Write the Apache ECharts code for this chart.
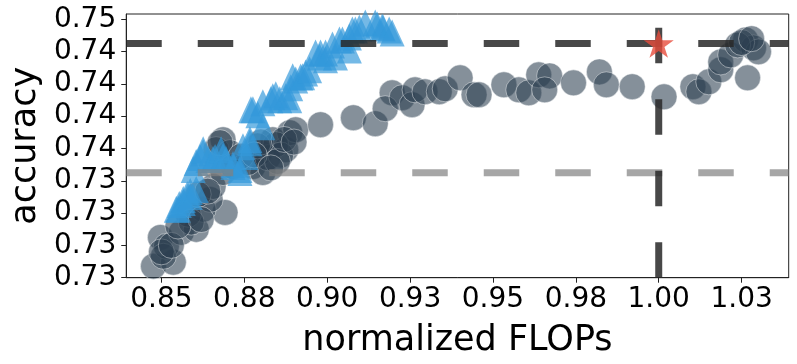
<!DOCTYPE html>
<html>
<head>
<meta charset="utf-8">
<script src="https://cdn.jsdelivr.net/npm/echarts@6/dist/echarts.min.js"></script>
<style>
  html, body { margin: 0; padding: 0; background: #fff; }
  #chart { width: 797px; height: 364px; }
</style>
</head>
<body>
<div id="chart"></div>
<script>
// circle points: [normalized FLOPs, accuracy]
const circlePts = [
  [0.8476, 0.72839], [0.8497, 0.73062], [0.8536, 0.72870], [0.8515, 0.72993],
  [0.8506, 0.72916], [0.8560, 0.73101], [0.8605, 0.73124], [0.8692, 0.73255],
  [0.8626, 0.73279], [0.8647, 0.73356], [0.8656, 0.73456], [0.8686, 0.73818],
  [0.8665, 0.73741], [0.8707, 0.73718], [0.8686, 0.73564], [0.8716, 0.73610],
  [0.8776, 0.73610], [0.8806, 0.73564], [0.8797, 0.73718], [0.8836, 0.73818],
  [0.8875, 0.73741], [0.8887, 0.73872], [0.8905, 0.73895], [0.8581, 0.73241],
  [0.8611, 0.73395], [0.8677, 0.73795], [0.8761, 0.73641], [0.8821, 0.73679],
  [0.8845, 0.73780], [0.8860, 0.73700], [0.8790, 0.73770], [0.8740, 0.73690],
  [0.8640, 0.73420], [0.8590, 0.73180],
  [0.8800, 0.73800], [0.8850, 0.73650], [0.8870, 0.73820], [0.8780, 0.73700],
  [0.8900, 0.73800], [0.8830, 0.73600], [0.8500, 0.72950], [0.8530, 0.73000],
  [0.8550, 0.73150], [0.8620, 0.73200],
  [0.8980, 0.73934], [0.9079, 0.73988], [0.9145, 0.73942], [0.9196, 0.74181],
  [0.9175, 0.74058], [0.9226, 0.74143], [0.9256, 0.74089], [0.9265, 0.74204],
  [0.9295, 0.74189], [0.9338, 0.74189], [0.9356, 0.74212], [0.9401, 0.74297],
  [0.9443, 0.74166], [0.9458, 0.74166], [0.9533, 0.74243], [0.9578, 0.74204],
  [0.9608, 0.74181], [0.9638, 0.74320], [0.9671, 0.74312], [0.9656, 0.74204],
  [0.9743, 0.74258], [0.9821, 0.74343], [0.9842, 0.74243], [0.9920, 0.74228],
  [1.0016, 0.74150], [1.0103, 0.74228], [1.0121, 0.74189], [1.0151, 0.74266],
  [1.0187, 0.74359], [1.0187, 0.74420], [1.0217, 0.74474], [1.0262, 0.74590],
  [1.0286, 0.74529], [1.0301, 0.74498], [1.0268, 0.74297], [1.0238, 0.74552],
  [1.0250, 0.74570], [1.0280, 0.74600]
];

// triangle points
const trianglePts = [
  [0.8545, 0.73279], [0.8551, 0.73279], [0.8554, 0.73317], [0.8566, 0.73333],
  [0.8566, 0.73356], [0.8578, 0.73394], [0.8587, 0.73379], [0.8587, 0.73418],
  [0.8596, 0.73587], [0.8605, 0.73433], [0.8605, 0.73641], [0.8617, 0.73680],
  [0.8626, 0.73718], [0.8626, 0.73741], [0.8641, 0.73664], [0.8656, 0.73664],
  [0.8662, 0.73680], [0.8680, 0.73741], [0.8686, 0.73688], [0.8695, 0.73664],
  [0.8716, 0.73610], [0.8716, 0.73626], [0.8737, 0.73564], [0.8737, 0.73587],
  [0.8746, 0.73764], [0.8755, 0.73688], [0.8767, 0.73795], [0.8767, 0.73818],
  [0.8770, 0.74050], [0.8776, 0.74050], [0.8791, 0.74011], [0.8806, 0.73919],
  [0.8806, 0.74104], [0.8830, 0.74127], [0.8836, 0.74150], [0.8845, 0.74166],
  [0.8857, 0.74127], [0.8875, 0.74150], [0.8887, 0.74127], [0.8890, 0.74220],
  [0.8896, 0.74305], [0.8905, 0.74281], [0.8920, 0.74304], [0.8926, 0.74305],
  [0.8935, 0.74335], [0.8947, 0.74359], [0.8965, 0.74490], [0.8977, 0.74459],
  [0.8980, 0.74490], [0.8995, 0.74436], [0.8995, 0.74490], [0.9016, 0.74552],
  [0.9025, 0.74459], [0.9037, 0.74590], [0.9046, 0.74590], [0.9067, 0.74513],
  [0.9067, 0.74613], [0.9076, 0.74667], [0.9085, 0.74667], [0.9097, 0.74683],
  [0.9115, 0.74721], [0.9145, 0.74721], [0.9151, 0.74706], [0.9166, 0.74691],
  [0.9169, 0.74683], [0.9187, 0.74667], [0.9196, 0.74644]
];

const baselinePt = [1.0, 0.74562];
const upperRef = 0.74562;
const lowerRef = 0.73562;

const xRange = [0.8394, 1.0392];
const yRange = [0.7275, 0.74791];
const xTicks = [0.85, 0.875, 0.9, 0.925, 0.95, 0.975, 1.0, 1.025];
const xTickLabels = ['0.85', '0.88', '0.90', '0.93', '0.95', '0.98', '1.00', '1.03'];
const yTicks = [0.7275, 0.73, 0.7325, 0.735, 0.7375, 0.74, 0.7425, 0.745, 0.7475];
const yTickLabels = ['0.73', '0.73', '0.73', '0.73', '0.74', '0.74', '0.74', '0.74', '0.75'];

const starPath = 'path://M50 0 L61.23 34.55 L97.55 34.55 L68.16 55.9 L79.39 90.45 L50 69.1 L20.61 90.45 L31.84 55.9 L2.45 34.55 L38.77 34.55 Z';

function pickLabel(ticks, labels, v) {
  let best = 0;
  for (let i = 1; i < ticks.length; i++) {
    if (Math.abs(ticks[i] - v) < Math.abs(ticks[best] - v)) best = i;
  }
  return labels[best];
}

const font = 'DejaVu Sans';
const chart = echarts.init(document.getElementById('chart'), null, { renderer: 'canvas' });

chart.setOption({
  animation: false,
  backgroundColor: '#fff',
  grid: {
    left: 122.7, right: 8.3, top: 14, bottom: 86.3,
    show: true, borderColor: '#222', borderWidth: 1, backgroundColor: 'transparent'
  },
  xAxis: {
    type: 'value',
    min: xRange[0], max: xRange[1],
    name: 'normalized FLOPs',
    nameLocation: 'middle',
    nameGap: 46,
    nameTextStyle: { fontFamily: font, fontSize: 35, color: '#000' },
    axisLine: { show: true, onZero: false, lineStyle: { color: '#222', width: 1 } },
    axisTick: { show: true, length: 5, lineStyle: { color: '#222' }, customValues: xTicks },
    axisLabel: {
      margin: 8, fontFamily: font, fontSize: 28, color: '#000',
      customValues: xTicks,
      formatter: v => pickLabel(xTicks, xTickLabels, v)
    },
    splitLine: { show: false }
  },
  yAxis: {
    type: 'value',
    min: yRange[0], max: yRange[1],
    name: 'accuracy',
    nameLocation: 'middle',
    nameGap: 77,
    nameTextStyle: { fontFamily: font, fontSize: 35, color: '#000' },
    axisLine: { show: true, onZero: false, lineStyle: { color: '#222', width: 1 } },
    axisTick: { show: true, length: 5, lineStyle: { color: '#222' }, customValues: yTicks },
    axisLabel: {
      margin: 10, fontFamily: font, fontSize: 28, color: '#000',
      customValues: yTicks,
      formatter: v => pickLabel(yTicks, yTickLabels, v)
    },
    splitLine: { show: false }
  },
  series: [
    {
      type: 'scatter',
      data: circlePts,
      symbol: 'circle',
      symbolSize: 26,
      itemStyle: { color: 'rgba(44,62,80,0.72)', borderColor: 'rgba(255,255,255,0.55)', borderWidth: 1 },
      z: 2
    },
    {
      type: 'scatter',
      data: trianglePts,
      symbol: 'triangle',
      symbolSize: [25, 27],
      itemStyle: { color: 'rgba(52,152,219,0.85)' },
      z: 3
    },
    {
      type: 'line',
      data: [[xRange[0], upperRef], [xRange[1], upperRef]],
      symbol: 'none',
      lineStyle: { color: 'rgba(40,40,40,0.85)', width: 7, type: [35.5, 36], cap: 'butt' },
      z: 4
    },
    {
      type: 'line',
      data: [[xRange[0], lowerRef], [xRange[1], lowerRef]],
      symbol: 'none',
      lineStyle: { color: 'rgba(128,128,128,0.7)', width: 7, type: [35.5, 36], cap: 'butt' },
      z: 4
    },
    {
      type: 'line',
      data: [[baselinePt[0], yRange[0]], [baselinePt[0], yRange[1]]],
      symbol: 'none',
      lineStyle: { color: 'rgba(40,40,40,0.85)', width: 7, type: [35.5, 36], cap: 'butt' },
      z: 4
    },
    {
      type: 'scatter',
      data: [baselinePt],
      symbol: starPath,
      symbolKeepAspect: true,
      symbolSize: 30,
      itemStyle: { color: '#e74c3c' },
      z: 5
    }
  ]
});
</script>
</body>
</html>
